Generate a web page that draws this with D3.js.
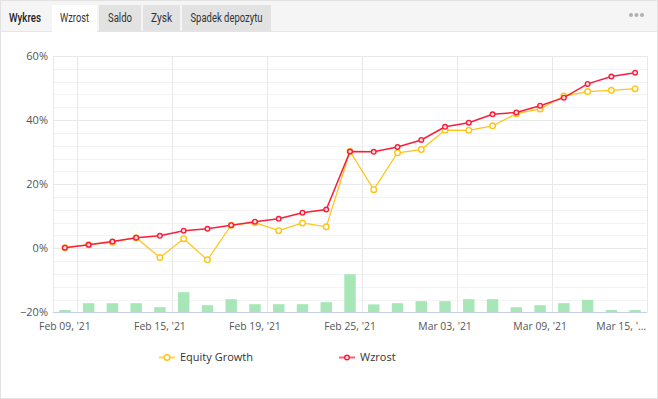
<!DOCTYPE html>
<html>
<head>
<meta charset="utf-8">
<script src="https://cdn.jsdelivr.net/npm/d3@7"></script>
<style>
  html, body { margin: 0; padding: 0; background: #fff; }
  svg { display: block; }
</style>
</head>
<body>
<svg id="chart" width="658" height="399"></svg>
<script>
// ---------- DATA ----------
const dates = ["2021-02-09","2021-02-10","2021-02-11","2021-02-12","2021-02-15","2021-02-16","2021-02-17","2021-02-18","2021-02-19",
  "2021-02-22","2021-02-23","2021-02-24","2021-02-25","2021-02-26","2021-03-01","2021-03-02","2021-03-03","2021-03-04","2021-03-05",
  "2021-03-08","2021-03-09","2021-03-10","2021-03-11","2021-03-12","2021-03-15"];
const wzrost = [0.2, 1.1, 2.1, 3.3, 3.9, 5.5, 6.1, 7.2, 8.3, 9.2, 11.1, 12.1, 30.2, 30.1, 31.6, 33.8, 37.9, 39.2, 41.8, 42.4, 44.5, 47.0, 51.3, 53.6, 54.8];
const equityGrowth = [0.2, 1.1, 1.9, 3.3, -2.9, 3.0, -3.6, 7.2, 8.0, 5.5, 7.9, 6.7, 30.2, 18.3, 29.8, 30.8, 36.9, 36.8, 38.2, 42.0, 43.5, 47.5, 48.9, 49.3, 49.8];
const activity = [1.2, 4.6, 4.6, 4.6, 2.6, 10.1, 3.6, 6.6, 4.1, 4.1, 4.1, 5.1, 19.1, 4.0, 4.6, 5.6, 5.6, 6.6, 6.6, 2.6, 3.6, 4.6, 6.3, 1.2, 1.2];
const tickIndices = [0, 4, 8, 12, 16, 20, 24];
const tickLabels = ["Feb 09, '21", "Feb 15, '21", "Feb 19, '21", "Feb 25, '21", "Mar 03, '21", "Mar 09, '21", "Mar 15, '21"];
const yTicks = [-20, 0, 20, 40, 60];
const tabs = ["Wzrost", "Saldo", "Zysk", "Spadek depozytu"];
const seriesNames = ["Equity Growth", "Wzrost"];

// ---------- LAYOUT ----------
const W = 658, H = 399;
const plot = { left: 53, right: 647, top: 56, bottom: 312.4 };
const font = "'Open Sans', sans-serif";
const colRed = "#f81e3c", colYellow = "#ffc414", colBar = "#a6e6b7";

const svg = d3.select("#chart");

// card
svg.append("rect").attr("x", 0.5).attr("y", 0.5).attr("width", W - 1).attr("height", H - 1)
  .attr("fill", "#fff").attr("stroke", "#e2e2e2");
// header
svg.append("rect").attr("x", 1).attr("y", 1).attr("width", W - 2).attr("height", 30.5).attr("fill", "#f5f5f5");
svg.append("line").attr("x1", 1).attr("x2", W - 1).attr("y1", 31.5).attr("y2", 31.5).attr("stroke", "#e6e6e6");

svg.append("text").attr("x", 9).attr("y", 22).text("Wykres")
  .attr("textLength", 32).attr("lengthAdjust", "spacingAndGlyphs")
  .attr("font-family", "Roboto, sans-serif").attr("font-size", 12.5).attr("font-weight", 500).attr("fill", "#222");

const tabBoxes = [[52, 97], [99, 141], [143, 180], [182, 271]];
const tabTextW = [29, 24, 21, 72];
tabs.forEach((t, i) => {
  const [a, b] = tabBoxes[i];
  svg.append("rect").attr("x", a).attr("y", 5).attr("width", b - a).attr("height", i === 0 ? 27 : 26.5)
    .attr("fill", i === 0 ? "#fff" : "#e2e2e2");
  svg.append("text").attr("x", (a + b) / 2 - tabTextW[i] / 2).attr("y", 22).text(t)
    .attr("textLength", tabTextW[i]).attr("lengthAdjust", "spacingAndGlyphs")
    .attr("font-family", "Roboto, sans-serif").attr("font-size", 12.5).attr("fill", "#333");
});
// dots menu
[631, 636.5, 642].forEach(cx => svg.append("circle").attr("cx", cx).attr("cy", 15).attr("r", 2).attr("fill", "#b0b0b0"));

// ---------- SCALES ----------
const x = d3.scaleBand().domain(dates).range([plot.left, plot.right]).paddingInner(0).paddingOuter(0);
const y = d3.scaleLinear().domain([-20, 60]).range([plot.bottom, plot.top]);
const yBar = d3.scaleLinear().domain([0, 100]).range([plot.bottom, plot.bottom - 200]);
const cx = d => x(d) + x.bandwidth() / 2;

// minor grid
const g = svg.append("g");
g.selectAll("line.minor").data(d3.range(-20, 61, 4).filter(v => v % 20 !== 0)).enter().append("line")
  .attr("x1", plot.left).attr("x2", plot.right).attr("y1", d => Math.round(y(d)) + 0.5).attr("y2", d => Math.round(y(d)) + 0.5)
  .attr("stroke", "#f3f3f3");
// major grid
g.selectAll("line.major").data(yTicks.filter(v => v !== -20)).enter().append("line")
  .attr("x1", plot.left).attr("x2", plot.right).attr("y1", d => Math.round(y(d)) + 0.5).attr("y2", d => Math.round(y(d)) + 0.5)
  .attr("stroke", "#e8e8e8");
// vertical grid
g.selectAll("line.v").data(tickIndices.slice(0, -1)).enter().append("line")
  .attr("x1", i => Math.round(x(dates[i]) + x.bandwidth()) + 0.5).attr("x2", i => Math.round(x(dates[i]) + x.bandwidth()) + 0.5)
  .attr("y1", plot.top).attr("y2", plot.bottom).attr("stroke", "#e8e8e8");
// plot borders
[plot.left, plot.right].forEach(px => g.append("line").attr("x1", Math.round(px) + 0.5).attr("x2", Math.round(px) + 0.5)
  .attr("y1", plot.top).attr("y2", plot.bottom).attr("stroke", "#e8e8e8"));

// bars
const bw = x.bandwidth() * 0.48;
svg.append("g").selectAll("rect").data(activity).enter().append("rect")
  .attr("x", (d, i) => cx(dates[i]) - bw / 2).attr("width", bw)
  .attr("y", d => yBar(d)).attr("height", d => plot.bottom - yBar(d))
  .attr("fill", colBar);

// bottom axis line
svg.append("line").attr("x1", plot.left).attr("x2", plot.right).attr("y1", Math.round(plot.bottom) + 0.5).attr("y2", Math.round(plot.bottom) + 0.5)
  .attr("stroke", "#c8d0e4");

// y axis labels
const yAxis = d3.axisLeft(y).tickValues(yTicks).tickSize(0).tickPadding(5)
  .tickFormat(d => (d < 0 ? "\u2212" + Math.abs(d) : d) + "%");
const ya = svg.append("g").attr("transform", `translate(${plot.left},0)`).call(yAxis);
ya.select(".domain").remove();
ya.selectAll("text").attr("font-family", font).attr("font-size", 11).attr("fill", "#555");

// x axis labels
const xAxis = d3.axisBottom(x).tickValues(tickIndices.map(i => dates[i])).tickSize(0).tickPadding(10)
  .tickFormat(d => tickLabels[tickIndices.indexOf(dates.indexOf(d))]);
const xa = svg.append("g").attr("transform", `translate(0,${plot.bottom})`).call(xAxis);
xa.select(".domain").remove();
xa.selectAll("text").attr("font-family", font).attr("font-size", 10.4).attr("fill", "#555");
xa.selectAll("text").each(function () {
  const t = d3.select(this);
  const tickX = x(t.datum()) + x.bandwidth() / 2;
  const w = this.getComputedTextLength();
  if (tickX + w / 2 > plot.right) {
    const s = t.text();
    t.attr("text-anchor", "end").attr("x", plot.right - 1 - tickX).text(s.slice(0, -2) + "\u2026");
  }
});

// lines
const line = arr => d3.line().x((d, i) => cx(dates[i])).y(d => y(d))(arr);
svg.append("path").attr("d", line(equityGrowth)).attr("fill", "none").attr("stroke", colYellow).attr("stroke-width", 1.2);
svg.append("g").selectAll("circle").data(equityGrowth).enter().append("circle")
  .attr("cx", (d, i) => cx(dates[i])).attr("cy", d => y(d)).attr("r", 2.8)
  .attr("fill", "#fff").attr("stroke", colYellow).attr("stroke-width", 1.4);
svg.append("path").attr("d", line(wzrost)).attr("fill", "none").attr("stroke", colRed).attr("stroke-width", 1.5);
svg.append("g").selectAll("circle").data(wzrost).enter().append("circle")
  .attr("cx", (d, i) => cx(dates[i])).attr("cy", d => y(d)).attr("r", 2.3)
  .attr("fill", "#ffe3e8").attr("stroke", colRed).attr("stroke-width", 1.4);

// legend
const legend = [{ name: seriesNames[0], col: colYellow, x: 159, r: 2.8, fill: "#fff" }, { name: seriesNames[1], col: colRed, x: 339, r: 2.3, fill: "#ffe3e8" }];
const ly = 357.5;
legend.forEach(l => {
  svg.append("line").attr("x1", l.x).attr("x2", l.x + 16).attr("y1", ly).attr("y2", ly).attr("stroke", l.col).attr("stroke-width", 2).attr("opacity", 0.7);
  svg.append("circle").attr("cx", l.x + 8).attr("cy", ly).attr("r", l.r).attr("fill", l.fill).attr("stroke", l.col).attr("stroke-width", 1.4);
  svg.append("text").attr("x", l.x + 21).attr("y", ly).attr("dy", "0.35em").text(l.name)
    .attr("font-family", font).attr("font-size", 11).attr("fill", "#333");
});
</script>
</body>
</html>
